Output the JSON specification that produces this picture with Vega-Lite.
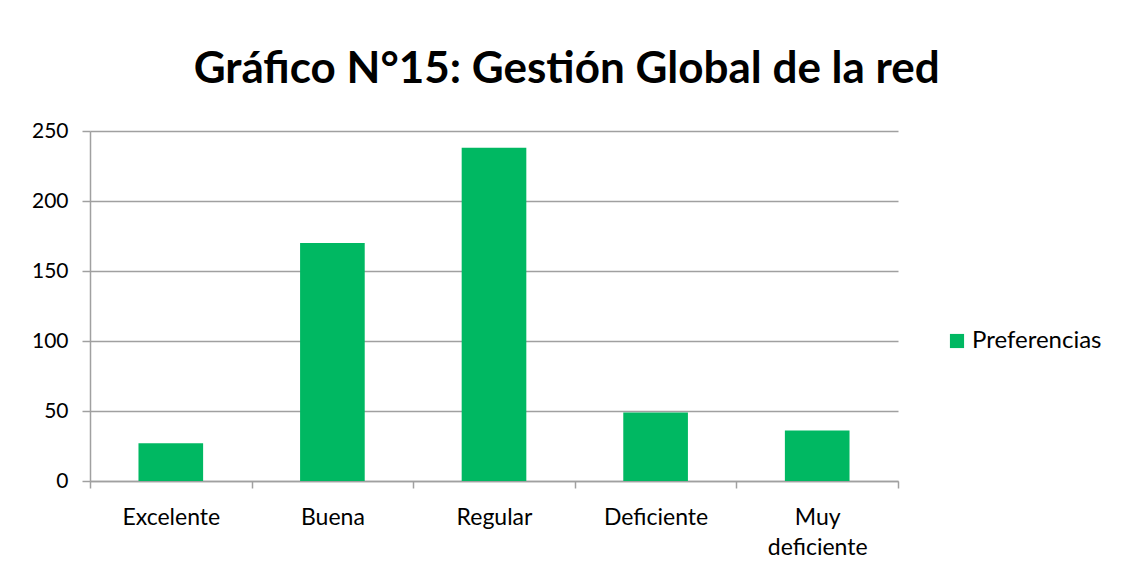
{
  "$schema": "https://vega.github.io/schema/vega-lite/v6.json",
  "width": 808,
  "height": 350,
  "padding": {"left": 31, "top": 48, "right": 10, "bottom": 10},
  "background": "white",
  "title": {
    "text": "Gráfico N°15: Gestión Global de la red",
    "font": "Lato",
    "fontSize": 44,
    "fontWeight": "bold",
    "color": "#000000",
    "anchor": "middle",
    "frame": "bounds",
    "offset": 28
  },
  "data": {
    "values": [
      {"categoria": "Excelente", "serie": "Preferencias", "valor": 27},
      {"categoria": "Buena", "serie": "Preferencias", "valor": 170},
      {"categoria": "Regular", "serie": "Preferencias", "valor": 238},
      {"categoria": "Deficiente", "serie": "Preferencias", "valor": 49},
      {"categoria": "Muy deficiente", "serie": "Preferencias", "valor": 36}
    ]
  },
  "mark": {"type": "bar", "width": {"band": 0.4}},
  "encoding": {
    "x": {
      "field": "categoria",
      "type": "nominal",
      "sort": null,
      "title": null,
      "scale": {"paddingInner": 0, "paddingOuter": 0},
      "axis": {
        "labelAngle": 0,
        "labelFont": "Lato",
        "labelFontSize": 23,
        "labelColor": "#000000",
        "labelPadding": 18,
        "labelLineHeight": 30,
        "labelExpr": "datum.value == 'Muy deficiente' ? ['Muy', 'deficiente'] : datum.value",
        "tickBand": "extent",
        "ticks": true,
        "tickSize": 7,
        "tickColor": "#a0a0a0",
        "tickWidth": 1.5,
        "domainColor": "#a0a0a0",
        "domainWidth": 1.5,
        "grid": false
      }
    },
    "y": {
      "field": "valor",
      "type": "quantitative",
      "title": null,
      "scale": {"domain": [0, 250]},
      "axis": {
        "values": [0, 50, 100, 150, 200, 250],
        "labelFont": "Lato",
        "labelFontSize": 21,
        "labelColor": "#000000",
        "labelPadding": 14,
        "tickSize": 8,
        "tickColor": "#a0a0a0",
        "tickWidth": 1.5,
        "domainColor": "#a0a0a0",
        "domainWidth": 1.5,
        "gridColor": "#a0a0a0",
        "gridWidth": 1.5
      }
    },
    "color": {
      "field": "serie",
      "type": "nominal",
      "scale": {"range": ["#00b862"]},
      "legend": {
        "title": null,
        "orient": "none",
        "legendX": 855,
        "legendY": 198,
        "symbolType": "square",
        "symbolSize": 200,
        "symbolStrokeWidth": 0,
        "labelFont": "Lato",
        "labelFontSize": 24,
        "labelColor": "#000000",
        "labelOffset": 3
      }
    }
  },
  "config": {
    "view": {"stroke": null}
  }
}
